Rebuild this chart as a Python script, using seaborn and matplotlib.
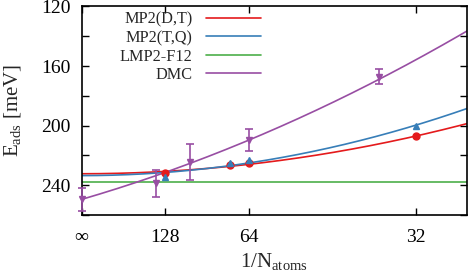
import numpy as np
import pandas as pd
import matplotlib
matplotlib.use("Agg")
import matplotlib.pyplot as plt
import seaborn as sns
from matplotlib.ticker import MultipleLocator

# values (x = 1/N_atoms, y = E_ads in meV)
mp2_x = [1 / 128, 1 / 72, 1 / 64, 1 / 32]
mp2_dt = [232.0, 226.4, 225.3, 207.2]
mp2_tq = [234.7, 224.9, 223.0, 200.3]
lmp2_f12 = 238.0
dmc_x = [0.0, 1 / 144, 1 / 99, 1 / 64, 1 / 36]
dmc_y = [249.5, 238.7, 224.6, 209.7, 167.2]
dmc_err = [7.5, 9.0, 12.0, 7.5, 5.0]
# quadratic fit of the DMC curve (c2, c1, c0)
dmc_fit_coef = [-29040.0, -2093.5, 249.5]

xtick_pos = [0, 1 / 128, 1 / 64, 1 / 32]
xtick_labels = ["\u221e", "128", "64", "32"]
ytick_pos = [120, 160, 200, 240]

sns.set_theme(style="ticks")
plt.rcParams["font.family"] = ["Liberation Serif", "DejaVu Serif"]
plt.rcParams["mathtext.fontset"] = "custom"
plt.rcParams["mathtext.rm"] = "Liberation Serif"
plt.rcParams["mathtext.it"] = "Liberation Serif:italic"

pal = sns.color_palette("Set1")
c_red, c_blue, c_green, c_purple = pal[0], pal[1], pal[2], pal[3]

fig = plt.figure(figsize=(4.69, 2.80), dpi=100)
ax = fig.add_axes([0.174, 0.232, 0.8217, 0.745])

xx = np.linspace(0, 0.036, 300)

# MP2 fits: a + c*x^2
def fit_sq(x, y):
    c, a = np.polyfit(np.array(x) ** 2, y, 1)
    return a + c * xx ** 2

fits = pd.DataFrame({
    "x": np.tile(xx, 4),
    "E": np.concatenate([fit_sq(mp2_x, mp2_dt), fit_sq(mp2_x, mp2_tq),
                         np.full_like(xx, lmp2_f12), np.polyval(dmc_fit_coef, xx)]),
    "method": np.repeat(["MP2(D,T)", "MP2(T,Q)", "LMP2-F12", "DMC"], len(xx)),
})

palette = {"MP2(D,T)": c_red, "MP2(T,Q)": c_blue, "LMP2-F12": c_green, "DMC": c_purple}
sns.lineplot(data=fits, x="x", y="E", hue="method", palette=palette, ax=ax,
             linewidth=1.2, sort=False, estimator=None)

# data points
ax.plot(mp2_x, mp2_dt, "o", color=c_red, markersize=5, zorder=3)
ax.plot(mp2_x, mp2_tq, "^", color=c_blue, markersize=5, zorder=3)
ax.errorbar(dmc_x, dmc_y, yerr=dmc_err, fmt="v", color=c_purple, markersize=4,
            capsize=3, elinewidth=1.2, capthick=1.2, zorder=3, clip_on=False)

ax.set_xlim(0, 0.036)
ax.set_ylim(260, 120)
ax.set_xticks(xtick_pos)
ax.set_xticklabels(xtick_labels)
ax.set_yticks(ytick_pos)
ax.yaxis.set_minor_locator(MultipleLocator(20))
ax.tick_params(which="both", direction="in", top=True, right=True,
               length=5, width=1, labelsize=14, colors="black")
ax.tick_params(axis="x", pad=10)
ax.tick_params(axis="y", pad=8)
for s in ax.spines.values():
    s.set_linewidth(1.2)
    s.set_color("black")

ax.set_xlabel(r"1/N$_{\mathrm{atoms}}$", fontsize=15, labelpad=4)
ax.set_ylabel(r"E$_{\mathrm{ads}}$ [meV]", fontsize=15, labelpad=13)

leg = ax.legend(loc="upper right", bbox_to_anchor=(0.465, 0.975), frameon=False,
                markerfirst=False, fontsize=11.7, handlelength=3.4,
                handletextpad=0.8, labelspacing=0.15, borderpad=0,
                borderaxespad=0)

fig.savefig("out.png", dpi=100)
